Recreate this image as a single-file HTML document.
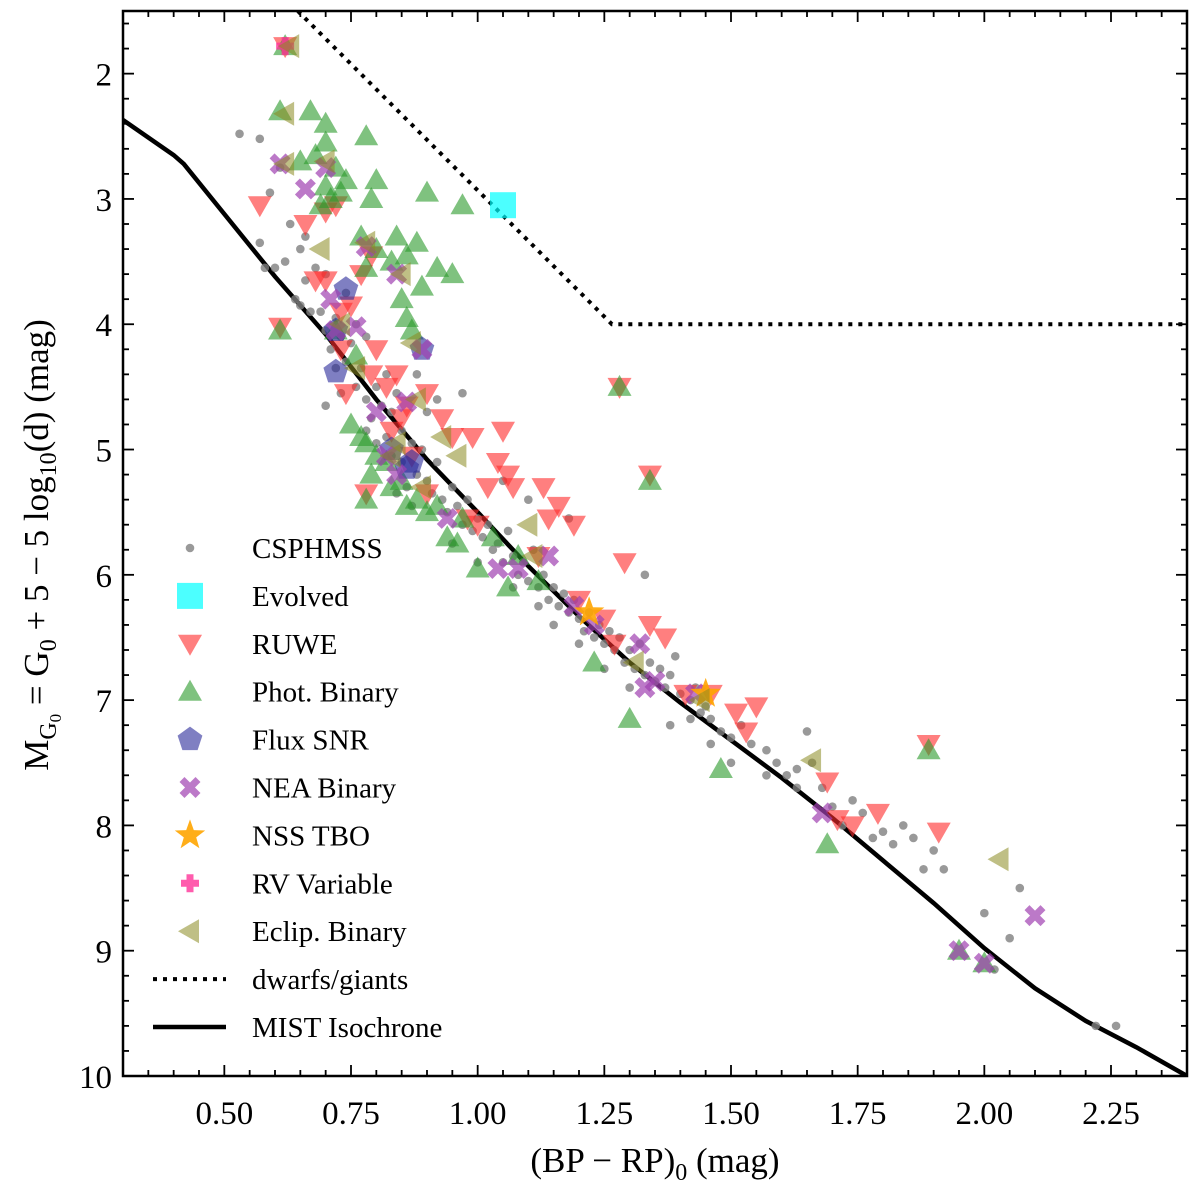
<!DOCTYPE html>
<html><head><meta charset="utf-8"><style>
body{margin:0;background:#fff}
svg{display:block;font-family:"Liberation Serif",serif}
</style></head><body>
<svg id="chart" width="1200" height="1194" viewBox="0 0 1200 1194" xmlns="http://www.w3.org/2000/svg">
<defs><clipPath id="clip"><rect x="123" y="11" width="1064" height="1065"/></clipPath></defs>
<g id="plot" clip-path="url(#clip)"></g>
<g id="axes"></g>
<g id="legend"></g>
<text x="655" y="1172" font-size="35" text-anchor="middle">(BP − RP)<tspan font-size="24" dy="8">0</tspan><tspan dy="-8"> (mag)</tspan></text>
<text transform="translate(48,545) rotate(-90)" font-size="35" text-anchor="middle">M<tspan font-size="24" dy="8">G</tspan><tspan font-size="17" dy="5">0</tspan><tspan dy="-13"> = G</tspan><tspan font-size="24" dy="8">0</tspan><tspan dy="-8"> + 5 − 5 log</tspan><tspan font-size="24" dy="8">10</tspan><tspan dy="-8">(d) (mag)</tspan></text>
</svg>
<script>
const xTicks=[0.5,0.75,1.0,1.25,1.5,1.75,2.0,2.25];
const xTickLabels=["0.50","0.75","1.00","1.25","1.50","1.75","2.00","2.25"];
const yTicks=[2,3,4,5,6,7,8,9,10];
const isoX=[0.3,0.4,0.42,0.5,0.6,0.7,0.8,0.9,1.0,1.1,1.2,1.3,1.4,1.5,1.6,1.7,1.8,1.9,2.0,2.1,2.2,2.3,2.4];
const isoY=[2.37,2.65,2.72,3.12,3.62,4.08,4.6,5.08,5.5,5.93,6.33,6.7,7.02,7.32,7.62,7.94,8.28,8.62,8.98,9.3,9.56,9.77,10.0];
const divX=[0.645,1.265,2.4];
const divY=[1.5,4.0,4.0];
const grayX=[0.53,0.57,0.59,0.61,0.57,0.6,0.62,0.63,0.65,0.66,0.64,0.65,0.67,0.66,0.68,0.7,0.69,0.7,0.72,0.71,0.73,0.74,0.72,0.75,0.77,0.78,0.76,0.78,0.8,0.79,0.81,0.82,0.83,0.84,0.85,0.82,0.8,0.83,0.85,0.87,0.88,0.86,0.89,0.9,0.91,0.92,0.93,0.95,0.94,0.96,0.97,0.98,0.99,1.0,1.01,1.02,1.03,1.04,1.05,1.06,1.07,1.08,1.09,1.1,1.11,1.12,1.13,1.14,1.15,1.16,1.17,1.18,1.19,1.2,1.21,1.22,1.23,1.24,1.25,1.26,1.27,1.28,1.29,1.3,1.31,1.32,1.33,1.34,1.35,1.36,1.37,1.38,1.39,1.4,1.42,1.43,1.44,1.45,1.46,1.48,1.5,1.52,1.54,1.57,1.59,1.61,1.63,1.65,1.66,1.68,1.7,1.72,1.74,1.76,1.78,1.8,1.82,1.84,1.86,1.88,1.9,1.92,2.0,2.02,2.05,2.07,2.22,2.26,1.33,1.1,1.05,0.97,0.92,1.18,0.74,0.58,0.7,0.84,0.95,1.0,1.07,1.12,1.2,1.25,1.3,1.42,1.5,1.57,1.63,0.9,0.88,0.76,0.73,0.78,0.87,1.15,1.38,1.46];
const grayY=[2.48,2.52,2.95,2.75,3.35,3.55,3.5,3.2,3.4,3.3,3.8,3.85,3.9,3.65,3.55,3.6,3.9,4.05,3.95,4.2,4.1,4.3,4.35,4.15,4.35,4.1,4.5,4.6,4.5,4.75,4.65,4.4,4.7,4.55,4.85,4.9,4.95,5.05,5.1,4.95,5.2,5.3,5.0,5.25,5.35,5.1,5.4,5.3,5.5,5.45,5.6,5.4,5.65,5.55,5.7,5.6,5.8,5.75,5.9,5.65,5.85,6.0,5.9,6.05,5.8,6.1,6.0,6.2,6.1,6.25,6.15,6.3,6.2,6.35,6.45,6.3,6.5,6.4,6.55,6.45,6.6,6.5,6.7,6.6,6.75,6.55,6.8,6.7,6.85,6.75,6.9,6.8,6.65,6.95,7.0,6.9,7.1,7.05,7.15,7.25,7.3,7.2,7.35,7.4,7.5,7.6,7.55,7.25,7.5,7.7,7.85,8.0,7.8,7.9,8.1,8.05,8.15,8.0,8.1,8.35,8.2,8.35,8.7,9.15,8.9,8.5,9.6,9.6,6.0,5.4,5.25,4.55,4.6,5.55,3.75,3.55,4.65,5.35,5.75,5.9,6.1,6.25,6.55,6.75,6.9,7.15,7.5,7.6,7.7,4.7,4.4,4.0,4.55,4.85,5.45,6.4,7.2,7.35];
const ruweX=[0.62,0.57,0.61,0.66,0.68,0.7,0.72,0.7,0.73,0.75,0.77,0.79,0.73,0.74,0.79,0.8,0.82,0.84,0.85,0.86,0.83,0.9,0.93,0.95,0.99,1.05,1.02,1.04,1.07,1.13,0.98,1.0,1.06,0.87,0.9,1.12,1.14,1.16,1.19,1.2,1.25,1.27,1.29,1.34,1.37,1.41,1.46,1.51,1.55,1.53,1.69,1.74,1.79,1.71,1.91,1.89,1.28,1.34,0.78];
const ruweY=[1.78,3.05,4.02,3.2,3.65,3.1,3.05,3.65,3.9,3.85,3.6,3.45,4.2,4.55,4.4,4.2,4.5,4.4,4.75,4.65,4.85,4.55,4.75,4.9,4.9,4.85,5.3,5.1,5.3,5.3,5.55,5.6,5.2,5.05,5.35,5.85,5.55,5.45,5.6,6.2,6.35,6.55,5.9,6.4,6.5,6.95,6.95,7.1,7.05,7.25,7.65,8.0,7.9,7.95,8.05,7.35,4.5,5.2,5.35];
const photX=[0.62,0.61,0.67,0.7,0.65,0.68,0.7,0.72,0.74,0.73,0.78,0.8,0.79,0.77,0.7,0.69,0.71,0.9,0.97,0.84,0.88,0.8,0.83,0.86,0.92,0.95,0.78,0.85,0.86,0.87,0.89,0.61,0.72,0.76,0.75,0.77,0.78,0.8,0.79,0.82,0.83,0.85,0.86,0.88,0.9,0.92,0.94,0.96,0.97,1.0,1.03,0.78,1.28,1.34,1.23,1.3,1.48,1.69,1.89,1.95,2.0,1.06,1.12,1.08];
const photY=[1.78,2.3,2.3,2.4,2.7,2.65,2.55,2.75,2.85,2.95,2.5,2.85,3.0,3.3,2.9,3.05,3.0,2.95,3.05,3.3,3.35,3.4,3.5,3.45,3.55,3.6,3.55,3.8,3.95,4.05,3.7,4.05,4.05,4.25,4.8,4.9,4.95,5.05,5.2,5.1,5.3,5.25,5.45,5.4,5.5,5.45,5.7,5.75,5.55,5.95,5.7,5.4,4.5,5.25,6.7,7.15,7.55,8.15,7.4,9.0,9.1,6.1,6.05,5.85];
const evoX=[1.05];
const evoY=[3.05];
const fluxX=[0.74,0.72,0.72,0.89,0.83,0.86,0.87];
const fluxY=[3.72,4.05,4.38,4.2,5.0,5.15,5.1];
const neaX=[0.61,0.66,0.7,0.78,0.84,0.71,0.76,0.72,0.89,0.8,0.86,0.82,0.84,0.94,1.04,1.08,1.14,1.19,1.23,1.32,1.33,1.35,1.43,1.68,1.95,2.0,2.1];
const neaY=[2.72,2.92,2.75,3.38,3.6,3.8,4.02,4.05,4.2,4.7,4.62,5.05,5.2,5.55,5.95,5.95,5.85,6.25,6.4,6.55,6.9,6.85,6.95,7.9,9.0,9.1,8.72];
const nssX=[1.22,1.45];
const nssY=[6.3,6.95];
const rvX=[0.62];
const rvY=[1.78];
const eclX=[0.63,0.62,0.62,0.7,0.69,0.78,0.85,0.73,0.76,0.87,0.88,0.83,0.93,0.96,0.89,1.1,1.11,1.31,1.44,1.66,2.03,0.84];
const eclY=[1.78,2.32,2.72,2.7,3.4,3.35,3.6,4.0,4.35,4.15,4.6,5.05,4.9,5.05,5.3,5.6,5.85,6.7,7.0,7.48,8.27,4.95];

const NS="http://www.w3.org/2000/svg";
const X0=123,X1=1187,Y0=11,Y1=1076,XMIN=0.3,XMAX=2.4,YMIN=1.5,YMAX=10;
const sx=v=>X0+(v-XMIN)/(XMAX-XMIN)*(X1-X0);
const sy=v=>Y0+(v-YMIN)/(YMAX-YMIN)*(Y1-Y0);
function mk(tag,attrs,parent){const e=document.createElementNS(NS,tag);for(const k in attrs)e.setAttribute(k,attrs[k]);parent.appendChild(e);return e;}
const plot=document.getElementById('plot'),axes=document.getElementById('axes'),leg=document.getElementById('legend');

function marker(type,cx,cy,parent){
  let e;
  if(type==='dot'){e=mk('circle',{cx:cx,cy:cy,r:4.3,fill:'#808080','fill-opacity':0.8},parent);}
  else if(type==='sq'){e=mk('rect',{x:cx-13,y:cy-13,width:26,height:26,fill:'#00ffff','fill-opacity':0.7},parent);}
  else if(type==='down'){e=mk('polygon',{points:`${cx-12},${cy-9} ${cx+12},${cy-9} ${cx},${cy+12}`,fill:'#ff2a2a','fill-opacity':0.6},parent);}
  else if(type==='up'){e=mk('polygon',{points:`${cx-12},${cy+9} ${cx+12},${cy+9} ${cx},${cy-12}`,fill:'#2a9a2a','fill-opacity':0.6},parent);}
  else if(type==='pent'){let p=[];for(let i=0;i<5;i++){const a=-Math.PI/2+i*2*Math.PI/5;p.push((cx+13*Math.cos(a)).toFixed(1)+','+(cy+13*Math.sin(a)).toFixed(1));}e=mk('polygon',{points:p.join(' '),fill:'#2a2a9a','fill-opacity':0.6},parent);}
  else if(type==='x'){e=mk('path',{d:`M${cx-8},${cy-8}L${cx+8},${cy+8}M${cx+8},${cy-8}L${cx-8},${cy+8}`,stroke:'#a040b0','stroke-opacity':0.7,'stroke-width':7},parent);}
  else if(type==='star'){let p=[];for(let i=0;i<10;i++){const r=i%2?6.5:16;const a=-Math.PI/2+i*Math.PI/5;p.push((cx+r*Math.cos(a)).toFixed(1)+','+(cy+r*Math.sin(a)).toFixed(1));}e=mk('polygon',{points:p.join(' '),fill:'#ffa500','fill-opacity':0.9},parent);}
  else if(type==='plus'){e=mk('path',{d:`M${cx-9},${cy}L${cx+9},${cy}M${cx},${cy-9}L${cx},${cy+9}`,stroke:'#ff3399','stroke-opacity':0.8,'stroke-width':7},parent);}
  else if(type==='left'){e=mk('polygon',{points:`${cx+9},${cy-12} ${cx+9},${cy+12} ${cx-12},${cy}`,fill:'#8a8a20','fill-opacity':0.55},parent);}
  return e;
}
function series(xs,ys,type,name){
  const g=mk('g',{},plot);
  
  
  for(let i=0;i<xs.length;i++){
    const e=marker(type,sx(xs[i]),sy(ys[i]),g);
    
    
  }
}
// lines
let d='';isoX.forEach((v,i)=>{d+=(i?'L':'M')+sx(v).toFixed(1)+','+sy(isoY[i]).toFixed(1);});
const iso=mk('path',{d:d,fill:'none',stroke:'#000','stroke-width':4.5},plot);


d='';divX.forEach((v,i)=>{d+=(i?'L':'M')+sx(v).toFixed(1)+','+sy(divY[i]).toFixed(1);});
const dv=mk('path',{d:d,fill:'none',stroke:'#000','stroke-width':4,'stroke-dasharray':'4 6'},plot);



series(grayX,grayY,'dot','csphmss');
series(evoX,evoY,'sq','evolved');
series(ruweX,ruweY,'down','ruwe');
series(photX,photY,'up','phot-binary');
series(fluxX,fluxY,'pent','flux-snr');
series(neaX,neaY,'x','nea-binary');
series(nssX,nssY,'star','nss-tbo');
series(rvX,rvY,'plus','rv-variable');
series(eclX,eclY,'left','eclip-binary');

// frame & ticks
const fr=mk('rect',{x:X0,y:Y0,width:X1-X0,height:Y1-Y0,fill:'none',stroke:'#000','stroke-width':2.5},axes);


for(let v=0.3;v<=2.401;v+=0.05){const x=sx(v);const major=xTicks.some(t=>Math.abs(t-v)<1e-6);const L=major?11:6;
  mk('line',{x1:x,y1:Y1,x2:x,y2:Y1-L,stroke:'#000','stroke-width':1.8},axes);
  mk('line',{x1:x,y1:Y0,x2:x,y2:Y0+L,stroke:'#000','stroke-width':1.8},axes);}
for(let v=1.6;v<=10.001;v+=0.2){const y=sy(v);const major=yTicks.some(t=>Math.abs(t-v)<1e-6);const L=major?11:6;
  mk('line',{x1:X0,y1:y,x2:X0+L,y2:y,stroke:'#000','stroke-width':1.8},axes);
  mk('line',{x1:X1,y1:y,x2:X1-L,y2:y,stroke:'#000','stroke-width':1.8},axes);}
xTicks.forEach((t,i)=>{const e=mk('text',{x:sx(t),y:1124,'font-size':33,'text-anchor':'middle'},axes);e.textContent=xTickLabels[i];
  
  });
yTicks.forEach(t=>{const e=mk('text',{x:112,y:sy(t)+12,'font-size':33,'text-anchor':'end'},axes);e.textContent=String(t);
  
  });

// legend
const legNames=['CSPHMSS','Evolved','RUWE','Phot. Binary','Flux SNR','NEA Binary','NSS TBO','RV Variable','Eclip. Binary','dwarfs/giants','MIST Isochrone'];
const legTypes=['dot','sq','down','up','pent','x','star','plus','left','dotted','solid'];
legNames.forEach((n,i)=>{
  const y=548+i*47.9;
  const g=mk('g',{},leg);
  
  
  const t=legTypes[i];
  if(t==='dotted')mk('line',{x1:153,y1:y,x2:226,y2:y,stroke:'#000','stroke-width':4,'stroke-dasharray':'4 6'},g);
  else if(t==='solid')mk('line',{x1:153,y1:y,x2:226,y2:y,stroke:'#000','stroke-width':4.5},g);
  else marker(t,190,y,g);
  const tx=mk('text',{x:252,y:y+10,'font-size':29},g);tx.textContent=n;
});
</script>
</body></html>
